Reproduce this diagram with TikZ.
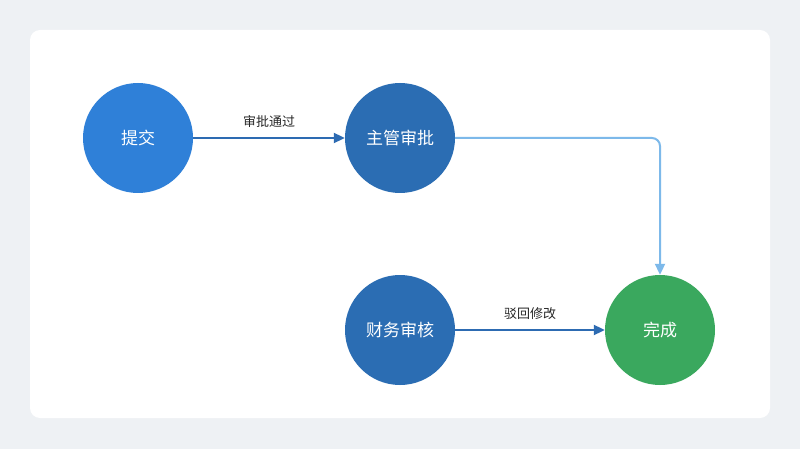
\documentclass[tikz,border=0pt]{standalone}
\usepackage{fontspec}
\newfontfamily\cjk{Noto Sans CJK SC}
\usetikzlibrary{arrows.meta}
\definecolor{bg}{HTML}{EEF1F4}
\definecolor{c1}{HTML}{2F80D8}
\definecolor{c2}{HTML}{2B6DB3}
\definecolor{c3}{HTML}{3AA85E}
\definecolor{dk}{HTML}{2D6BB2}
\definecolor{lt}{HTML}{7DB9EA}
\begin{document}
\begin{tikzpicture}[x=1pt,y=-1pt,
  st/.style={circle,minimum size=110pt,inner sep=0pt,text=white,font=\cjk\fontsize{17}{20}\selectfont},
  ar/.style={line width=2pt,-{Triangle[length=11pt,width=10pt]}},
  lb/.style={font=\cjk\fontsize{13}{16}\selectfont,text=black!85}]
\fill[bg] (0,0) rectangle (800,449);
\fill[white,rounded corners=10pt] (30,30) rectangle (770,418);
\useasboundingbox (0,0) rectangle (800,449);
\node[st,fill=c1] (a) at (138,138) {提交};
\node[st,fill=c2] (b) at (400,138) {主管审批};
\node[st,fill=c2] (c) at (400,330) {财务审核};
\node[st,fill=c3] (d) at (660,330) {完成};
\draw[ar,dk] (a) -- (b) node[midway,above=6pt,lb]{审批通过};
\draw[ar,lt,rounded corners=8pt] (b.east) -| (d.north);
\draw[ar,dk] (c) -- (d) node[midway,above=6pt,lb]{驳回修改};
\end{tikzpicture}
\end{document}
